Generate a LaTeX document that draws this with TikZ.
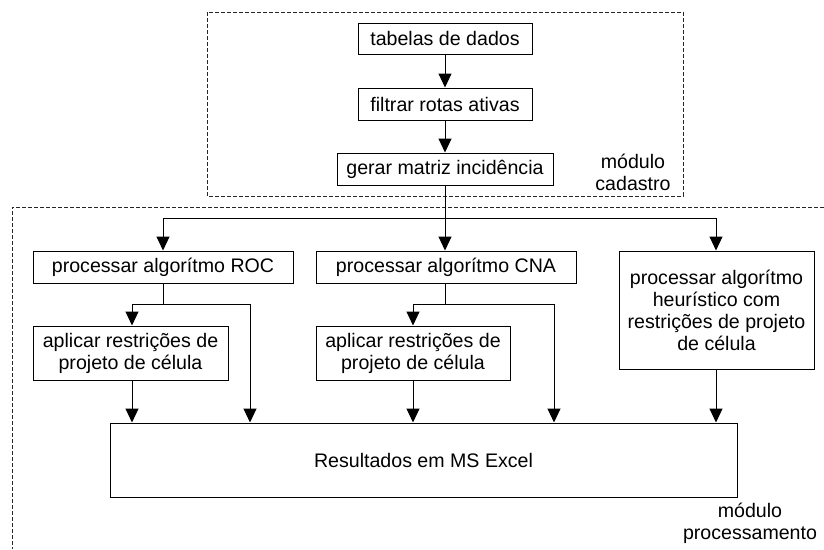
\documentclass[tikz,border=0pt]{standalone}
\usepackage{fontspec}
\setmainfont{Liberation Sans}
\usetikzlibrary{arrows.meta}
\begin{document}
\begin{tikzpicture}[x=1pt,y=-1pt,
  box/.style={draw=black,line width=1pt,inner sep=0pt,align=center,
    font=\fontsize{19.6}{22}\selectfont},
  lbl/.style={inner sep=0pt,align=center,font=\fontsize{19.6}{22}\selectfont},
  conn/.style={draw=black,line width=1pt},
  arr/.style={conn,-{Triangle[width=13pt,length=14pt]}},
  dsh/.style={draw=black!85,line width=0.9pt,dash pattern=on 4pt off 2pt}]
\useasboundingbox (0,0) rectangle (824,549);
% dashed module frames
\draw[dsh] (207,12) rectangle (683,196);
\draw[dsh] (824,207) -- (12,207) -- (12,549);
% nodes
\node[box,minimum width=174pt,minimum height=31pt] (tab) at (445,38.5) {tabelas de dados};
\node[box,minimum width=174pt,minimum height=32pt] (fil) at (445,104) {filtrar rotas ativas};
\node[box,minimum width=216pt,minimum height=32pt] (ger) at (445,169) {gerar matriz incidência};
\node[box,minimum width=260pt,minimum height=32pt] (roc) at (163,267) {processar algorítmo ROC};
\node[box,minimum width=260pt,minimum height=32pt] (cna) at (446,267) {processar algorítmo CNA};
\node[box,minimum width=195pt,minimum height=118pt] (heu) at (716.5,310) {processar algorítmo\\heurístico com\\restrições de projeto\\de célula};
\node[box,minimum width=195pt,minimum height=54pt] (ap1) at (130.5,353) {aplicar restrições de\\projeto de célula};
\node[box,minimum width=194pt,minimum height=54pt] (ap2) at (413,353) {aplicar restrições de\\projeto de célula};
\node[box,minimum width=627pt,minimum height=74pt] (res) at (423.5,460) {Resultados em MS Excel};
\node[lbl] (lcad) at (633,172) {módulo\\cadastro};
\node[lbl] (lproc) at (750,523) {módulo\\processamento};
% junction coordinates
\coordinate (split) at (445,218);
\coordinate (sl) at (163,218);
\coordinate (sr) at (716,218);
\coordinate (r1) at (163,304);
\coordinate (r1l) at (132,304);
\coordinate (r1r) at (250,304);
\coordinate (c1) at (445,304);
\coordinate (c1l) at (413,304);
\coordinate (c1r) at (554,304);
% connectors
\draw[arr] (tab) -- (fil);
\draw[arr] (fil) -- (ger);
\draw[conn] (ger.south) -- (split);
\draw[conn] (sl) -- (sr);
\draw[arr] (sl) -- (roc.north);
\draw[arr] (split) -- (split |- cna.north);
\draw[arr] (sr) -- (sr |- heu.north);
\draw[conn] (roc.south) -- (r1);
\draw[conn] (r1l) -- (r1r);
\draw[arr] (r1l) -- (r1l |- ap1.north);
\draw[arr] (r1r) -- (r1r |- res.north);
\draw[conn] (c1 |- cna.south) -- (c1);
\draw[conn] (c1l) -- (c1r);
\draw[arr] (c1l) -- (c1l |- ap2.north);
\draw[arr] (c1r) -- (c1r |- res.north);
\draw[arr] (r1l |- ap1.south) -- (r1l |- res.north);
\draw[arr] (c1l |- ap2.south) -- (c1l |- res.north);
\draw[arr] (sr |- heu.south) -- (sr |- res.north);
\end{tikzpicture}
\end{document}
